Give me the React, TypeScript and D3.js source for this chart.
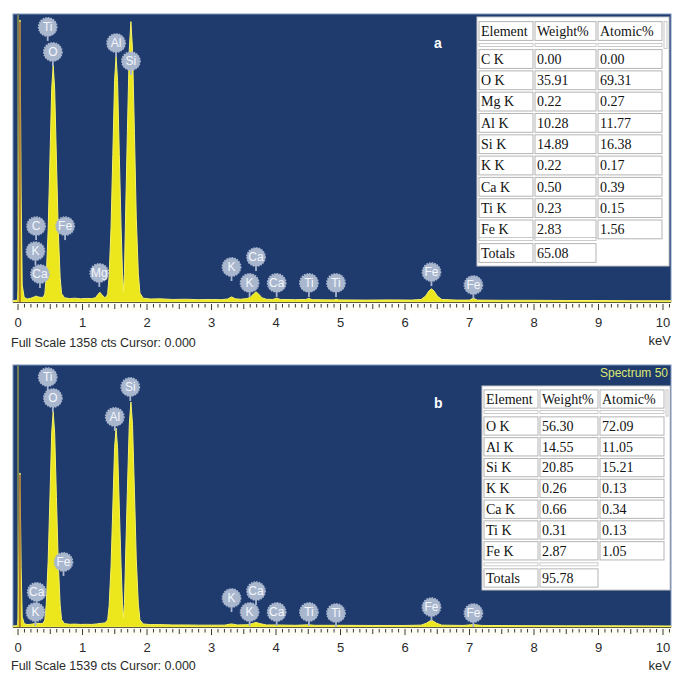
import React from "react";
import * as d3 from "d3";

// ---- chart data ----------------------------------------------------------
const energyDomain = [-0.078, 10.124]; // keV shown across the plot
const tickLabels = ["0", "1", "2", "3", "4", "5", "6", "7", "8", "9", "10"];

// spectrum a: [keV, counts], full scale 1358
const spectrumA: [number, number][] = [
  [-0.078, 6], [-0.01, 8], [0.0, 60], [0.012, 500], [0.03, 1330], [0.048, 500],
  [0.065, 80], [0.095, 22], [0.14, 14], [0.2, 18], [0.25, 24], [0.28, 28], [0.31, 24],
  [0.35, 22], [0.39, 22], [0.415, 38], [0.437, 115], [0.467, 340], [0.495, 675],
  [0.522, 1005], [0.545, 1117], [0.568, 1005], [0.595, 675], [0.623, 340],
  [0.653, 115], [0.675, 40], [0.72, 20], [0.8, 16], [0.88, 18], [0.97, 15],
  [1.06, 17], [1.14, 16], [1.2, 20], [1.24, 36], [1.27, 46], [1.3, 34], [1.34, 22],
  [1.37, 24], [1.39, 40], [1.412, 120], [1.442, 350], [1.47, 695], [1.497, 1045],
  [1.52, 1158], [1.543, 1045], [1.57, 695], [1.598, 350], [1.62, 130], [1.635, 50],
  [1.65, 135], [1.667, 400], [1.695, 795], [1.725, 1190], [1.75, 1322], [1.775, 1190],
  [1.805, 795], [1.833, 400], [1.865, 135], [1.89, 42], [1.94, 18], [2.05, 14],
  [2.2, 15], [2.4, 12], [2.6, 13], [2.8, 11], [3.0, 12], [3.15, 11], [3.25, 14],
  [3.31, 24], [3.37, 15], [3.45, 13], [3.55, 16], [3.6, 22], [3.65, 38], [3.69, 48],
  [3.73, 38], [3.78, 20], [3.85, 13], [3.95, 12], [4.01, 18], [4.07, 12], [4.3, 11],
  [4.46, 12], [4.51, 17], [4.56, 11], [4.9, 10], [4.93, 13], [4.97, 10], [5.4, 9],
  [5.8, 10], [6.1, 9], [6.25, 12], [6.32, 28], [6.37, 52], [6.41, 62], [6.45, 52],
  [6.5, 28], [6.57, 12], [6.8, 9], [7.0, 9], [7.06, 18], [7.12, 9], [7.5, 8],
  [8.0, 8], [8.5, 7], [9.0, 7], [9.5, 6], [10.124, 6],
];

// spectrum b: [keV, counts], full scale 1539
const spectrumB: [number, number][] = [
  [-0.078, 6], [-0.01, 8], [0.0, 50], [0.012, 350], [0.03, 905], [0.048, 350],
  [0.065, 60], [0.095, 20], [0.14, 14], [0.2, 16], [0.26, 20], [0.3, 22], [0.35, 20],
  [0.39, 22], [0.415, 42], [0.437, 130], [0.467, 385], [0.495, 765], [0.522, 1140],
  [0.545, 1265], [0.568, 1140], [0.595, 765], [0.623, 385], [0.653, 130],
  [0.675, 44], [0.72, 20], [0.8, 16], [0.88, 17], [0.97, 15], [1.06, 16], [1.14, 15],
  [1.22, 18], [1.3, 22], [1.35, 24], [1.39, 42], [1.412, 122], [1.442, 355],
  [1.47, 705], [1.497, 1055], [1.52, 1169], [1.543, 1055], [1.57, 705], [1.598, 355],
  [1.62, 132], [1.635, 52], [1.65, 137], [1.667, 400], [1.695, 795], [1.725, 1190],
  [1.75, 1322], [1.775, 1190], [1.805, 795], [1.833, 400], [1.865, 135], [1.89, 42],
  [1.94, 18], [2.05, 14], [2.2, 14], [2.4, 12], [2.6, 12], [2.8, 11], [3.0, 11],
  [3.2, 11], [3.31, 18], [3.4, 12], [3.55, 13], [3.63, 20], [3.69, 27], [3.75, 20],
  [3.85, 12], [4.0, 12], [4.3, 10], [4.51, 13], [4.6, 10], [5.0, 10], [5.5, 9],
  [6.0, 9], [6.25, 11], [6.33, 22], [6.41, 41], [6.49, 22], [6.57, 11], [6.9, 9],
  [7.06, 14], [7.2, 9], [7.8, 8], [8.5, 7], [9.2, 7], [10.124, 6],
];

// element markers: label, keV, height in counts
const badgeLabelsA = ["Ti", "O", "Al", "Si", "C", "Fe", "K", "Ca", "Mg", "K", "Ca", "K", "Ca", "Ti", "Ti", "Fe", "Fe"];
const badgeKevA = [0.46, 0.54, 1.52, 1.75, 0.28, 0.73, 0.27, 0.34, 1.26, 3.31, 3.69, 3.59, 4.01, 4.51, 4.93, 6.41, 7.06];
const badgeCountsA = [1297, 1179, 1221, 1136, 358, 358, 240, 132, 137, 165, 212, 90, 90, 90, 90, 141, 80];

const badgeLabelsB = ["Ti", "O", "Al", "Si", "Fe", "Ca", "K", "K", "Ca", "K", "Ca", "Ti", "Ti", "Fe", "Fe"];
const badgeKevB = [0.46, 0.54, 1.5, 1.74, 0.705, 0.29, 0.27, 3.31, 3.69, 3.59, 4.01, 4.51, 4.93, 6.41, 7.06];
const badgeCountsB = [1468, 1345, 1234, 1410, 382, 206, 88, 170, 211, 88, 88, 88, 82, 117, 82];

// quantification tables
const tableHeader = ["Element", "Weight%", "Atomic%"];
const elementsA = ["C K", "O K", "Mg K", "Al K", "Si K", "K K", "Ca K", "Ti K", "Fe K"];
const weightA = ["0.00", "35.91", "0.22", "10.28", "14.89", "0.22", "0.50", "0.23", "2.83"];
const atomicA = ["0.00", "69.31", "0.27", "11.77", "16.38", "0.17", "0.39", "0.15", "1.56"];
const totalA = "65.08";

const elementsB = ["O K", "Al K", "Si K", "K K", "Ca K", "Ti K", "Fe K"];
const weightB = ["56.30", "14.55", "20.85", "0.26", "0.66", "0.31", "2.87"];
const atomicB = ["72.09", "11.05", "15.21", "0.13", "0.34", "0.13", "1.05"];
const totalB = "95.78";

// ---- styling -------------------------------------------------------------
const BLUE = "#1f3a6d";
const YELLOW = "#ece61c";
const SANS = "'Liberation Sans', Arial, sans-serif";
const SERIF = "'Liberation Serif', 'Times New Roman', serif";

const PLOT_LEFT = 13;
const PLOT_RIGHT = 671;

const Badge = ({ x, y, label }) => (
  <g transform={`translate(${x},${y})`}>
    <line x1={0} y1={8} x2={0} y2={14} stroke="#a7b6ce" strokeWidth={1.8} />
    <circle r={9.2} fill="#a8b6ce" stroke="#a8b6ce" strokeWidth={1.4} strokeDasharray="1.6 1.1" />
    <text y={4.3} textAnchor="middle" fontSize={12} fontFamily={SANS} fill="#f4f6fb">
      {label}
    </text>
  </g>
);

const ResultTable = ({ left, top, right, bottom, cols, widths, headerY, sepY, firstY, pitch, totalsY, elements, weight, atomic, total }) => {
  const rowY = d3.scaleLinear().domain([0, 1]).range([firstY, firstY + pitch]);
  const h = pitch - 2.5;
  const cell = (x, w, cy, key) => (
    <rect key={key} x={x} y={cy - h / 2} width={w} height={h} fill="#fff" stroke="#b4b4b4" strokeWidth={1} />
  );
  const txt = (x, cy, s, key) => (
    <text key={key} x={x + 2} y={cy + 4.8} fontSize={14} fontFamily={SERIF} fill="#111">
      {s}
    </text>
  );
  const sep = (y, k) =>
    cols.map((c, i) => (
      <rect key={`${k}${i}`} x={c} y={y - 1.5} width={widths[i]} height={3} fill="#fff" stroke="#bdbdbd" strokeWidth={0.8} />
    ));
  const rightCol = cols[2] + widths[2] + 2;
  return (
    <g>
      <rect x={left} y={top} width={right - left} height={bottom - top} fill="#fff" stroke="#c6c6c6" />
      {tableHeader.map((s, i) => cell(cols[i], widths[i], headerY, `hc${i}`))}
      <rect x={rightCol} y={headerY - h / 2} width={right - rightCol - 2} height={h + 8} fill="#fff" stroke="#c8c8c8" />
      {tableHeader.map((s, i) => txt(cols[i], headerY, s, `ht${i}`))}
      {sep(sepY, "s1")}
      {elements.map((e, r) => (
        <g key={e}>
          {cell(cols[0], widths[0], rowY(r), "a")}
          {cell(cols[1], widths[1], rowY(r), "b")}
          {cell(cols[2], widths[2], rowY(r), "c")}
          {txt(cols[0], rowY(r), e, "d")}
          {txt(cols[1], rowY(r), weight[r], "e")}
          {txt(cols[2], rowY(r), atomic[r], "f")}
        </g>
      ))}
      {cols.slice(0, 2).map((c, i) => (
        <rect key={`s2${i}`} x={c} y={totalsY - h / 2 - 6} width={widths[i]} height={3} fill="#fff" stroke="#bdbdbd" strokeWidth={0.8} />
      ))}
      {cell(cols[0], widths[0], totalsY, "t1")}
      {cell(cols[1], widths[1], totalsY, "t2")}
      {txt(cols[0], totalsY, "Totals", "t3")}
      {txt(cols[1], totalsY, total, "t4")}
    </g>
  );
};

const Panel = ({ top, base, fullScale, spectrum, labels, kevs, counts, letter, letterY, tickTop, labelBase, infoBase, kevBase, title }) => {
  const x = d3.scaleLinear().domain(energyDomain).range([PLOT_LEFT, PLOT_RIGHT]);
  const y = d3.scaleLinear().domain([0, fullScale]).range([base, top]);
  const area = d3
    .area<[number, number]>()
    .x((d) => x(d[0]))
    .y0(base)
    .y1((d) => Math.max(top, y(d[1])));
  const minor = d3.range(0, 102).map((i) => i / 10);
  return (
    <g>
      <rect x={PLOT_LEFT} y={top} width={PLOT_RIGHT - PLOT_LEFT} height={base - top} fill={BLUE} stroke="#7f98c0" strokeWidth={1} />
      <path d={area(spectrum)} fill={YELLOW} stroke="#f6f268" strokeWidth={1} />
      <line x1={x(0)} x2={x(0)} y1={top + 1} y2={base} stroke="#c9c23c" strokeWidth={1} />
      <line x1={x(0.03)} x2={x(0.03)} y1={y(spectrum[4][1]) + 2} y2={base} stroke="#8a2a1e" strokeWidth={1} />
      {title && (
        <text x={668} y={top + 12} textAnchor="end" fontSize={12} fontFamily={SANS} fill="#dbe874">
          {title}
        </text>
      )}
      <text x={x(6.45)} y={letterY} fontSize={14} fontWeight="bold" fontFamily={SANS} fill="#ffffff">
        {letter}
      </text>
      {labels.map((l, i) => (
        <Badge key={i} x={x(kevs[i])} y={y(counts[i])} label={l} />
      ))}
      {/* axis strip */}
      <rect x={PLOT_LEFT} y={base + 1} width={PLOT_RIGHT - PLOT_LEFT} height={tickTop - base + 6} fill="#fdfdf6" />
      <line x1={PLOT_LEFT} x2={PLOT_RIGHT} y1={base + 0.5} y2={base + 0.5} stroke="#5c5c3c" strokeWidth={1} />
      {minor.map((v, i) => (
        <line
          key={i}
          x1={x(v)}
          x2={x(v)}
          y1={tickTop}
          y2={tickTop + (i % 10 === 0 ? 6 : i % 5 === 0 ? 5 : 3.5)}
          stroke="#3a3a3a"
          strokeWidth={1}
        />
      ))}
      {tickLabels.map((t) => (
        <text key={t} x={x(+t)} y={labelBase} textAnchor="middle" fontSize={13} fontFamily={SANS} fill="#2a2a2a">
          {t}
        </text>
      ))}
      <text x={PLOT_RIGHT} y={kevBase} textAnchor="end" fontSize={13} fontFamily={SANS} fill="#2a2a2a">
        keV
      </text>
      <text x={11} y={infoBase} fontSize={12.5} fontFamily={SANS} fill="#2a2a2a">
        {`Full Scale ${fullScale} cts Cursor: 0.000`}
      </text>
    </g>
  );
};

export default function App() {
  return (
    <div style={{ position: "fixed", left: 0, top: 0, width: 673, height: 673, background: "#fff" }}>
      <svg width={673} height={673} style={{ display: "block" }}>
        <rect width={673} height={673} fill="#fff" />
        <Panel
          top={14}
          base={302}
          fullScale={1358}
          spectrum={spectrumA}
          labels={badgeLabelsA}
          kevs={badgeKevA}
          counts={badgeCountsA}
          letter="a"
          letterY={48}
          tickTop={304}
          labelBase={327}
          infoBase={347}
          kevBase={345}
          title={null}
        />
        <Panel
          top={365}
          base={627}
          fullScale={1539}
          spectrum={spectrumB}
          labels={badgeLabelsB}
          kevs={badgeKevB}
          counts={badgeCountsB}
          letter="b"
          letterY={408}
          tickTop={629}
          labelBase={652}
          infoBase={670}
          kevBase={670}
          title="Spectrum 50"
        />
        <ResultTable
          left={477}
          top={17}
          right={669}
          bottom={266}
          cols={[479, 535, 598]}
          widths={[54, 61, 64]}
          headerY={31}
          sepY={45}
          firstY={59}
          pitch={21.3}
          totalsY={253}
          elements={elementsA}
          weight={weightA}
          atomic={atomicA}
          total={totalA}
        />
        <ResultTable
          left={482}
          top={386}
          right={670}
          bottom={590}
          cols={[484, 540, 600]}
          widths={[54, 58, 64]}
          headerY={399}
          sepY={412}
          firstY={426}
          pitch={20.8}
          totalsY={578}
          elements={elementsB}
          weight={weightB}
          atomic={atomicB}
          total={totalB}
        />
      </svg>
    </div>
  );
}
